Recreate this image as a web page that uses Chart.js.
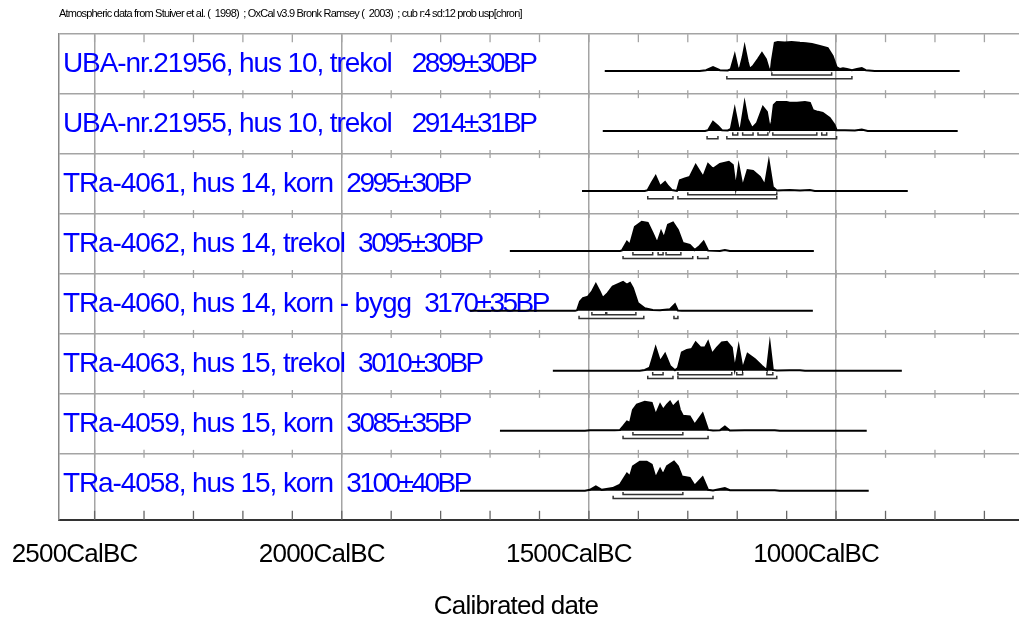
<!DOCTYPE html>
<html>
<head>
<meta charset="utf-8">
<script src="https://cdn.jsdelivr.net/npm/chart.js@4.4.1/dist/chart.umd.min.js"></script>
<style>
  html, body { margin: 0; padding: 0; background: #fff; }
  #wrap { width: 1019px; height: 623px; }
</style>
</head>
<body>
<div id="wrap"><canvas id="oxcal"></canvas></div>
<script>
// sample names and uncalibrated dates, one per row (top to bottom)
const sampleNames = [
  'UBA-nr.21956, hus 10, trekol',
  'UBA-nr.21955, hus 10, trekol',
  'TRa-4061, hus 14, korn',
  'TRa-4062, hus 14, trekol',
  'TRa-4060, hus 14, korn - bygg',
  'TRa-4063, hus 15, trekol',
  'TRa-4059, hus 15, korn',
  'TRa-4058, hus 15, korn'
];
const sampleDates = ['2899±30BP', '2914±31BP', '2995±30BP', '3095±30BP', '3170±35BP', '3010±30BP', '3085±35BP', '3100±40BP'];

// calibrated probability curves: years (cal BC) and relative probability
const years1 = [1468,1276,1263,1249,1235,1219,1213,1205,1199,1195,1189,1185,1179,1175,1168,1158,1150,1142,1136,1132,1130,1124,1118,1104,1090,1073,1061,1049,1033,1017,1007,999,992,986,978,968,958,948,940,922,750];
const prob1  = [0,0,.03,.14,.03,.02,.07,.55,.10,.07,.48,.83,.34,.07,.17,.41,.62,.41,.07,.03,.34,.97,1,.98,1,.97,.96,.93,.86,.79,.52,.14,.07,.10,.07,.03,.07,.10,.03,0,0];

const years2 = [1472,1265,1259,1249,1239,1231,1219,1213,1205,1197,1193,1185,1179,1170,1160,1148,1140,1134,1130,1126,1120,1100,1094,1079,1063,1053,1047,1037,1027,1013,1003,999,982,962,948,936,754];
const prob2  = [0,0,.03,.32,.17,.03,.02,.07,.75,.07,.10,.96,.41,.10,.28,.83,.66,.07,.34,.90,1,1,.97,.97,1,.97,.72,.66,.62,.45,.21,.03,.03,.02,.05,0,0];

const years3 = [1514,1387,1381,1373,1365,1356,1346,1340,1332,1322,1316,1306,1296,1284,1269,1259,1249,1235,1217,1209,1203,1197,1189,1179,1168,1154,1144,1136,1128,1120,1094,1073,1053,1043,855];
const prob3  = [0,0,.03,.28,.51,.16,.31,.17,.03,0,.37,.43,.48,.89,.48,.93,.76,.93,1,.89,.11,.85,.14,.72,.69,.48,.20,1,.14,.02,.03,.02,.03,0,0];

const years4 = [1660,1437,1433,1423,1417,1407,1393,1381,1371,1362,1354,1348,1340,1330,1320,1310,1296,1286,1276,1268,1259,1235,1225,1215,1045];
const prob4  = [0,0,.02,.32,.21,.83,1,.96,.61,.27,.67,.44,.90,.98,.72,.27,.21,.03,.17,.32,.01,0,.03,0,0];

const years5 = [1741,1528,1524,1518,1512,1502,1494,1486,1478,1472,1462,1452,1431,1423,1417,1411,1401,1387,1371,1356,1336,1326,1320,1312,1047];
const prob5  = [0,0,.02,.32,.44,.49,.66,.92,.66,.44,.61,.84,1,.90,.96,.78,.27,.09,.03,.02,.06,.23,.01,0,0];

const years6 = [1573,1397,1387,1377,1371,1365,1356,1346,1336,1326,1320,1312,1302,1292,1284,1274,1265,1259,1251,1241,1231,1221,1211,1205,1197,1189,1179,1164,1150,1140,1134,1128,1120,1094,1073,1063,867];
const prob6  = [0,0,.03,.11,.45,.80,.32,.58,.17,.02,.10,.63,.72,.75,.98,.80,.80,1,.58,.80,.98,1,.80,.06,.83,.06,.58,.40,.17,.02,.90,.03,.01,.02,.02,0,0];

const years7 = [1680,1508,1498,1484,1448,1437,1431,1423,1417,1411,1403,1387,1373,1365,1356,1350,1342,1336,1330,1320,1316,1310,1296,1286,1270,1259,1249,1235,1225,1215,1185,1154,1124,1114,938];
const prob7  = [0,0,.02,.02,.02,.03,.15,.32,.27,.72,.90,1,.96,.55,.90,.72,.90,1,.83,1,.72,.52,.49,.21,.59,.03,.01,.02,.15,.01,.02,.02,.02,0,0];

const years8 = [1761,1508,1498,1486,1474,1452,1437,1431,1423,1417,1411,1397,1383,1373,1365,1356,1350,1342,1328,1320,1312,1296,1286,1270,1259,1249,1225,1215,1185,1154,1124,1114,934];
const prob8  = [0,0,.03,.15,.03,.09,.21,.38,.59,.49,.84,1,1,.90,.44,.75,.55,.84,1,.84,.49,.44,.17,.46,.03,.01,.09,.02,.02,.02,.02,0,0];

// 68.2% and 95.4% ranges (cal BC, from-to) per row
const range68 = [
  [[1130,1009]],
  [[1209,1199],[1189,1168],[1158,1138],[1128,1039],[1029,1019]],
  [[1300,1120]],
  [[1411,1371],[1360,1350],[1344,1314]],
  [[1494,1466],[1464,1405]],
  [[1371,1350],[1320,1211],[1201,1189],[1140,1128]],
  [[1411,1310]],
  [[1431,1310]]
];
const range95 = [
  [[1221,968]],
  [[1261,1239],[1221,999]],
  [[1381,1330],[1320,1120]],
  [[1431,1290],[1280,1259]],
  [[1520,1389],[1328,1320]],
  [[1381,1330],[1320,1120]],
  [[1431,1259]],
  [[1451,1249]]
];

// axis
const tickYears = [2500,2400,2300,2200,2100,2000,1900,1800,1700,1600,1500,1400,1300,1200,1100,1000,900,800,700];
const labelYears = [2500,2000,1500,1000];

const allYears = [years1, years2, years3, years4, years5, years6, years7, years8];
const allProbs = [prob1, prob2, prob3, prob4, prob5, prob6, prob7, prob8];

const NROWS = sampleNames.length;
const BASE_OFF = 0.615;   // baseline below row top (row units)
const PEAK = 0.485;       // height of prob 1
const GRID = '#a4a4a4';
const FONT = '"Liberation Sans", Arial, sans-serif';

const rowBase = i => NROWS - i - BASE_OFF;

const datasets = [];
allYears.forEach((ys, i) => {
  const base = rowBase(i);
  datasets.push({
    data: ys.map((yr, k) => ({ x: yr, y: base + allProbs[i][k] * PEAK })),
    borderColor: '#000',
    backgroundColor: '#000',
    borderWidth: 2,
    pointRadius: 0,
    tension: 0,
    fill: { value: base }
  });
  [[range68[i], 0.065], [range95[i], 0.128]].forEach(([segs, off]) => {
    const y0 = base - off, cap = 0.045;
    const pts = [];
    segs.forEach(([a, b]) => {
      pts.push({ x: a, y: y0 + cap }, { x: a, y: y0 }, { x: b, y: y0 }, { x: b, y: y0 + cap }, { x: b, y: null });
    });
    datasets.push({
      data: pts,
      borderColor: '#333',
      borderWidth: 1.5,
      pointRadius: 0,
      fill: false,
      spanGaps: false
    });
  });
});

const rowDecor = {
  id: 'rowDecor',
  beforeDraw(chart) {
    chart.ctx.letterSpacing = '-0.8px';
  },
  beforeDatasetsDraw(chart) {
    const { ctx, chartArea, scales: { x, y } } = chart;
    ctx.save();
    ctx.lineWidth = 1.3;
    ctx.strokeStyle = GRID;
    tickYears.forEach(yr => {
      const px = x.getPixelForValue(yr);
      for (let r = 1; r <= NROWS; r++) {
        const py = y.getPixelForValue(r);
        ctx.beginPath();
        ctx.moveTo(px, r === NROWS ? py : py - 4);
        ctx.lineTo(px, r === NROWS ? py + 8 : py + 4);
        ctx.stroke();
      }
    });
    ctx.strokeStyle = '#666';
    tickYears.forEach(yr => {
      const px = x.getPixelForValue(yr);
      ctx.beginPath();
      ctx.moveTo(px, chartArea.bottom);
      ctx.lineTo(px, chartArea.bottom - 9);
      ctx.stroke();
    });
    // row labels: name, then the BP date
    ctx.fillStyle = '#0000ff';
    ctx.font = '28px ' + FONT;
    ctx.textBaseline = 'alphabetic';
    sampleNames.forEach((name, i) => {
      const py = y.getPixelForValue(rowBase(i)) + 1;
      ctx.letterSpacing = '-1.1px';
      const w = ctx.measureText(name + (name.startsWith('UBA') ? '   ' : '  ')).width;
      ctx.fillText(name, chartArea.left + 4, py);
      ctx.letterSpacing = '-2.5px';
      ctx.fillText(sampleDates[i], chartArea.left + 4 + w, py);
    });
    ctx.restore();
  },
  afterDraw(chart) {
    const { ctx } = chart;
    ctx.save();
    ctx.font = '26px ' + FONT;
    ctx.letterSpacing = '-0.8px';
    ctx.fillStyle = '#000';
    ctx.textAlign = 'center';
    ctx.textBaseline = 'middle';
    ctx.fillText('Calibrated date', 516, 607);
    ctx.restore();
  }
};

Chart.defaults.font.family = FONT;
Chart.defaults.color = '#000';

new Chart(document.getElementById('oxcal'), {
  type: 'line',
  data: { datasets },
  options: {
    responsive: true,
    maintainAspectRatio: false,
    animation: false,
    layout: { padding: { left: 59, right: 0, top: 0, bottom: 34 } },
    plugins: {
      legend: { display: false },
      tooltip: { enabled: false },
      title: {
        display: true,
        text: 'Atmospheric data from Stuiver et al. (  1998)  ; OxCal v3.9 Bronk Ramsey (  2003)  ; cub r:4 sd:12 prob usp[chron]',
        align: 'start',
        font: { size: 11, weight: 'normal' },
        padding: { top: 7, bottom: 14 }
      }
    },
    scales: {
      x: {
        type: 'linear',
        reverse: true,
        min: 630,
        max: 2572,
        afterBuildTicks: s => { s.ticks = tickYears.map(v => ({ value: v })); },
        ticks: {
          autoSkip: false,
          maxRotation: 0,
          font: { size: 26 },
          padding: 19,
          labelOffset: -20,
          callback: v => labelYears.includes(v) ? v + 'CalBC' : ''
        },
        grid: {
          drawTicks: false,
          lineWidth: 1.5,
          color: c => (c.tick && labelYears.includes(c.tick.value)) ? GRID : 'rgba(0,0,0,0)'
        },
        border: { color: '#333', width: 2 }
      },
      y: {
        type: 'linear',
        min: -0.1,
        max: NROWS,
        afterBuildTicks: s => { s.ticks = sampleNames.map((n, i) => ({ value: i + 1 })); },
        ticks: { display: false },
        grid: { drawTicks: false, color: GRID, lineWidth: 1.5 },
        border: { color: '#888', width: 1.5 }
      }
    }
  },
  plugins: [rowDecor]
});
</script>
</body>
</html>
